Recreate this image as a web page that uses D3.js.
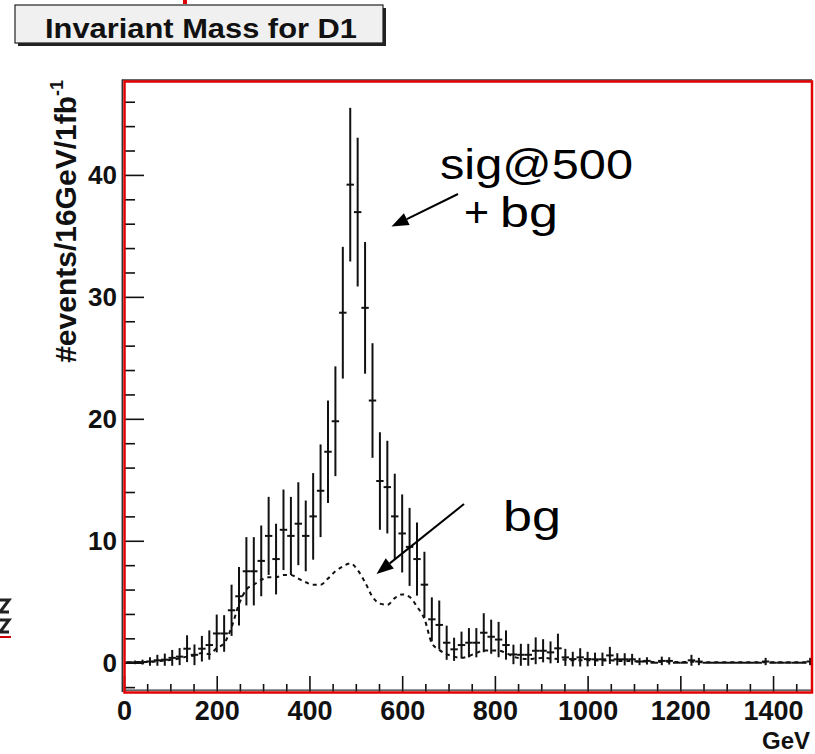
<!DOCTYPE html>
<html><head><meta charset="utf-8">
<script src="https://cdn.jsdelivr.net/npm/d3@7"></script>
<style>
body{margin:0;background:#fff;}
svg{display:block;}
text{font-family:"Liberation Sans",Arial,Helvetica,sans-serif;}
</style>
</head><body>
<svg id="c" width="815" height="754"></svg>
<script>
// ---- data ----
const binWidth = 16; // GeV
const sigValues = [0.02,0.03,0.05,0.1,0.2,0.25,0.4,0.5,1.15,0.65,
 1.15,1.45,2.4,2.4,4.3,5.45,7.5,7.5,8.35,10.4,
 8.5,10.9,10.4,11.4,10.4,12.0,14.1,17.3,19.8,28.7,
 39.2,36.95,29.1,21.5,14.9,14.4,12.0,10.6,9.5,8.5,
 6.4,3.56,3.1,1.64,1.1,1.45,1.64,1.64,2.46,2.13,
 1.9,1.45,0.68,0.65,0.65,0.98,0.98,0.85,1.18,0.44,
 0.3,0.44,0.3,0.28,0.28,0.6,0.28,0.28,0.28,0.1,
 0.15,0,0.15,0.15,0,0,0.2,0.1,0,0,
 0,0,0,0,0,0,0.1,0,0,0,
 0,0,0.1];
const sigErrors = [0.1,0.15,0.2,0.35,0.45,0.5,0.65,0.7,1.1,0.85,
 1.05,1.2,1.55,1.5,2.1,2.4,2.8,2.8,2.9,3.2,
 2.9,3.3,3.2,3.4,2.9,3.55,3.8,4.2,4.5,5.4,
 6.3,6.1,5.4,4.7,4.0,3.8,3.5,3.2,3.2,3.0,
 2.7,1.8,2.0,1.4,0.95,1.1,1.2,1.2,1.6,1.4,
 1.45,1.2,0.8,0.9,0.9,1.1,0.95,0.9,1.2,0.7,
 0.6,0.75,0.6,0.55,0.55,0.7,0.5,0.5,0.45,0.3,
 0.3,0,0.35,0.3,0,0,0.45,0.3,0,0,
 0,0,0,0,0,0,0.3,0,0,0,
 0,0,0.3];
const bgValues = [0.02,0.04,0.06,0.08,0.12,0.18,0.25,0.35,0.5,0.6,
 0.8,0.7,1.2,1.6,2.9,4.8,6.0,6.4,6.8,7.0,
 7.0,7.2,7.2,6.9,6.6,6.4,6.4,6.9,7.5,7.9,
 8.15,7.6,6.6,5.4,4.85,4.75,5.3,5.6,5.4,4.6,
 3.6,1.6,1.05,0.7,0.5,0.4,0.55,0.8,1.0,1.0,
 1.0,0.8,0.5,0.35,0.3,0.35,0.4,0.35,0.3,0.25,
 0.2,0.2,0.2,0.18,0.18,0.2,0.15,0.15,0.12,0.1,
 0.1,0.05,0.08,0.08,0.05,0.05,0.08,0.05,0.03,0.03,
 0.03,0.03,0.03,0.03,0.03,0.03,0.03,0.03,0.03,0.03,
 0.03,0.03,0.03];
const xMajorTicks = [0,200,400,600,800,1000,1200,1400];
const xMinorTicks = d3.range(0,1484,50).filter(v => v % 200 !== 0);
const yMajorTicks = [0,10,20,30,40];
const yMinorTicks = d3.range(-2,48,2).filter(v => v % 10 !== 0);
const titleText = "Invariant Mass for D1";
const xTitle = "GeV";
const yTitle = "#events/16GeV/1fb";

// ---- scales ----
const svg = d3.select("#c");
const x = d3.scaleLinear().domain([0,1484]).range([124,812]);
const y = d3.scaleLinear().domain([-2.4,47.7]).range([692,81]);
const FONT = '"Liberation Sans",Arial,Helvetica,sans-serif';

// slide remnants (cropped shapes at the picture edges)
svg.append("rect").attr("x",183).attr("y",0).attr("width",4).attr("height",4).attr("fill","#e00000");
svg.append("line").attr("x1",0).attr("x2",11).attr("y1",637).attr("y2",637).attr("stroke","#d00000").attr("stroke-width",2);
svg.append("path").attr("d","M0,600L9,600L0,612L9,612 M0,620L9,620L0,632L9,632")
  .attr("fill","none").attr("stroke","#222").attr("stroke-width",3);

// ---- title box ----
svg.append("rect").attr("x",18).attr("y",8).attr("width",368).attr("height",38).attr("fill","#222");
svg.append("rect").attr("x",15).attr("y",5).attr("width",368).attr("height",38)
  .attr("fill","#f0f0f0").attr("stroke","#222").attr("stroke-width",1.2);
svg.append("text").attr("x",45).attr("y",38).attr("font-size",28).attr("font-weight","bold")
  .attr("textLength",312).attr("lengthAdjust","spacingAndGlyphs").attr("fill","#111").text(titleText);

// ---- clip ----
svg.append("clipPath").attr("id","clip").append("rect")
  .attr("x",124).attr("y",81).attr("width",688).attr("height",611);
const plot = svg.append("g").attr("clip-path","url(#clip)");

// ---- background dashed curve ----
plot.append("path").datum(bgValues)
  .attr("d", d3.line().x((d,i) => x(i*binWidth + binWidth/2)).y(d => y(d)).curve(d3.curveMonotoneX))
  .attr("fill","none").attr("stroke","#111").attr("stroke-width",2).attr("stroke-dasharray","4,4");

// ---- sig+bg histogram with error bars ----
const g = plot.append("g").attr("stroke","#111").attr("stroke-width",2);
sigValues.forEach((v,i) => {
  const lo = i*binWidth, hi = lo + binWidth, c = lo + binWidth/2;
  g.append("line").attr("x1",x(lo)).attr("x2",x(hi)).attr("y1",y(v)).attr("y2",y(v));
  const e = sigErrors[i];
  if (e > 0) {
    g.append("line").attr("x1",x(c)).attr("x2",x(c)).attr("y1",y(v-e)).attr("y2",y(v+e));
  }
});

// ---- axes ----
function styleAxis(sel){
  sel.select(".domain").remove();
  sel.selectAll(".tick line").attr("stroke","#111").attr("stroke-width",1.6);
  sel.selectAll("text").attr("font-family",FONT).attr("font-weight","bold").attr("fill","#111");
}
const yAxisMajor = svg.append("g").attr("transform","translate(124,0)")
  .call(d3.axisLeft(y).tickValues(yMajorTicks).tickSize(-20).tickPadding(7).tickFormat(d3.format("d")));
styleAxis(yAxisMajor);
yAxisMajor.selectAll("text").attr("font-size",26);
const yAxisMinor = svg.append("g").attr("transform","translate(124,0)")
  .call(d3.axisLeft(y).tickValues(yMinorTicks).tickSize(-11).tickFormat(""));
styleAxis(yAxisMinor);

const xAxisMajor = svg.append("g").attr("transform","translate(0,692)")
  .call(d3.axisBottom(x).tickValues(xMajorTicks).tickSize(-16).tickPadding(9).tickFormat(d3.format("d")));
styleAxis(xAxisMajor);
xAxisMajor.selectAll("text").attr("font-size",27);
const xAxisMinor = svg.append("g").attr("transform","translate(0,692)")
  .call(d3.axisBottom(x).tickValues(xMinorTicks).tickSize(-8).tickFormat(""));
styleAxis(xAxisMinor);

// ---- frame ----
svg.append("line").attr("x1",122.3).attr("x2",122.3).attr("y1",79.5).attr("y2",692).attr("stroke","#333").attr("stroke-width",1.5);
svg.append("line").attr("x1",122).attr("x2",812).attr("y1",80).attr("y2",80).attr("stroke","#333").attr("stroke-width",1.5);
svg.append("line").attr("x1",124).attr("x2",812).attr("y1",690.2).attr("y2",690.2).attr("stroke","#333").attr("stroke-width",1.3);
svg.append("rect").attr("x",124.5).attr("y",81.5).attr("width",687.5).attr("height",611)
  .attr("fill","none").attr("stroke","#e00000").attr("stroke-width",2.5);

// ---- axis titles ----
svg.append("text").attr("x",810).attr("y",748.5).attr("text-anchor","end")
  .attr("font-size",24).attr("font-weight","bold").attr("fill","#111").text(xTitle);
const yt = svg.append("text").attr("transform","translate(76,80) rotate(-90)")
  .attr("text-anchor","end").attr("font-size",30).attr("font-weight","bold").attr("fill","#111");
yt.append("tspan").text(yTitle);
yt.append("tspan").attr("dy",-13).attr("font-size",18).text("-1");

// ---- annotations ----
const ANN = 43;
svg.append("text").attr("x",440).attr("y",179).attr("font-size",ANN).attr("fill","#000")
  .attr("textLength",193).attr("lengthAdjust","spacingAndGlyphs").text("sig@500");
const pb = svg.append("text").attr("y",227).attr("font-size",ANN).attr("fill","#000");
pb.append("tspan").attr("x",464).text("+");
pb.append("tspan").attr("x",500).attr("textLength",58).attr("lengthAdjust","spacingAndGlyphs").text("bg");
svg.append("text").attr("x",503).attr("y",531).attr("font-size",ANN).attr("fill","#000")
  .attr("textLength",58).attr("lengthAdjust","spacingAndGlyphs").text("bg");

function arrow(x1,y1,x2,y2){
  const a = Math.atan2(y2-y1,x2-x1), L = 17, W = 6.5;
  const bx = x2 - L*Math.cos(a), by = y2 - L*Math.sin(a);
  svg.append("line").attr("x1",x1).attr("y1",y1).attr("x2",bx).attr("y2",by)
    .attr("stroke","#000").attr("stroke-width",2);
  const px = -Math.sin(a)*W, py = Math.cos(a)*W;
  svg.append("path").attr("d",`M${x2},${y2}L${bx+px},${by+py}L${bx-px},${by-py}Z`).attr("fill","#000");
}
arrow(458,194,391.5,226.5);
arrow(464,504,376.5,574);
</script>
</body></html>
